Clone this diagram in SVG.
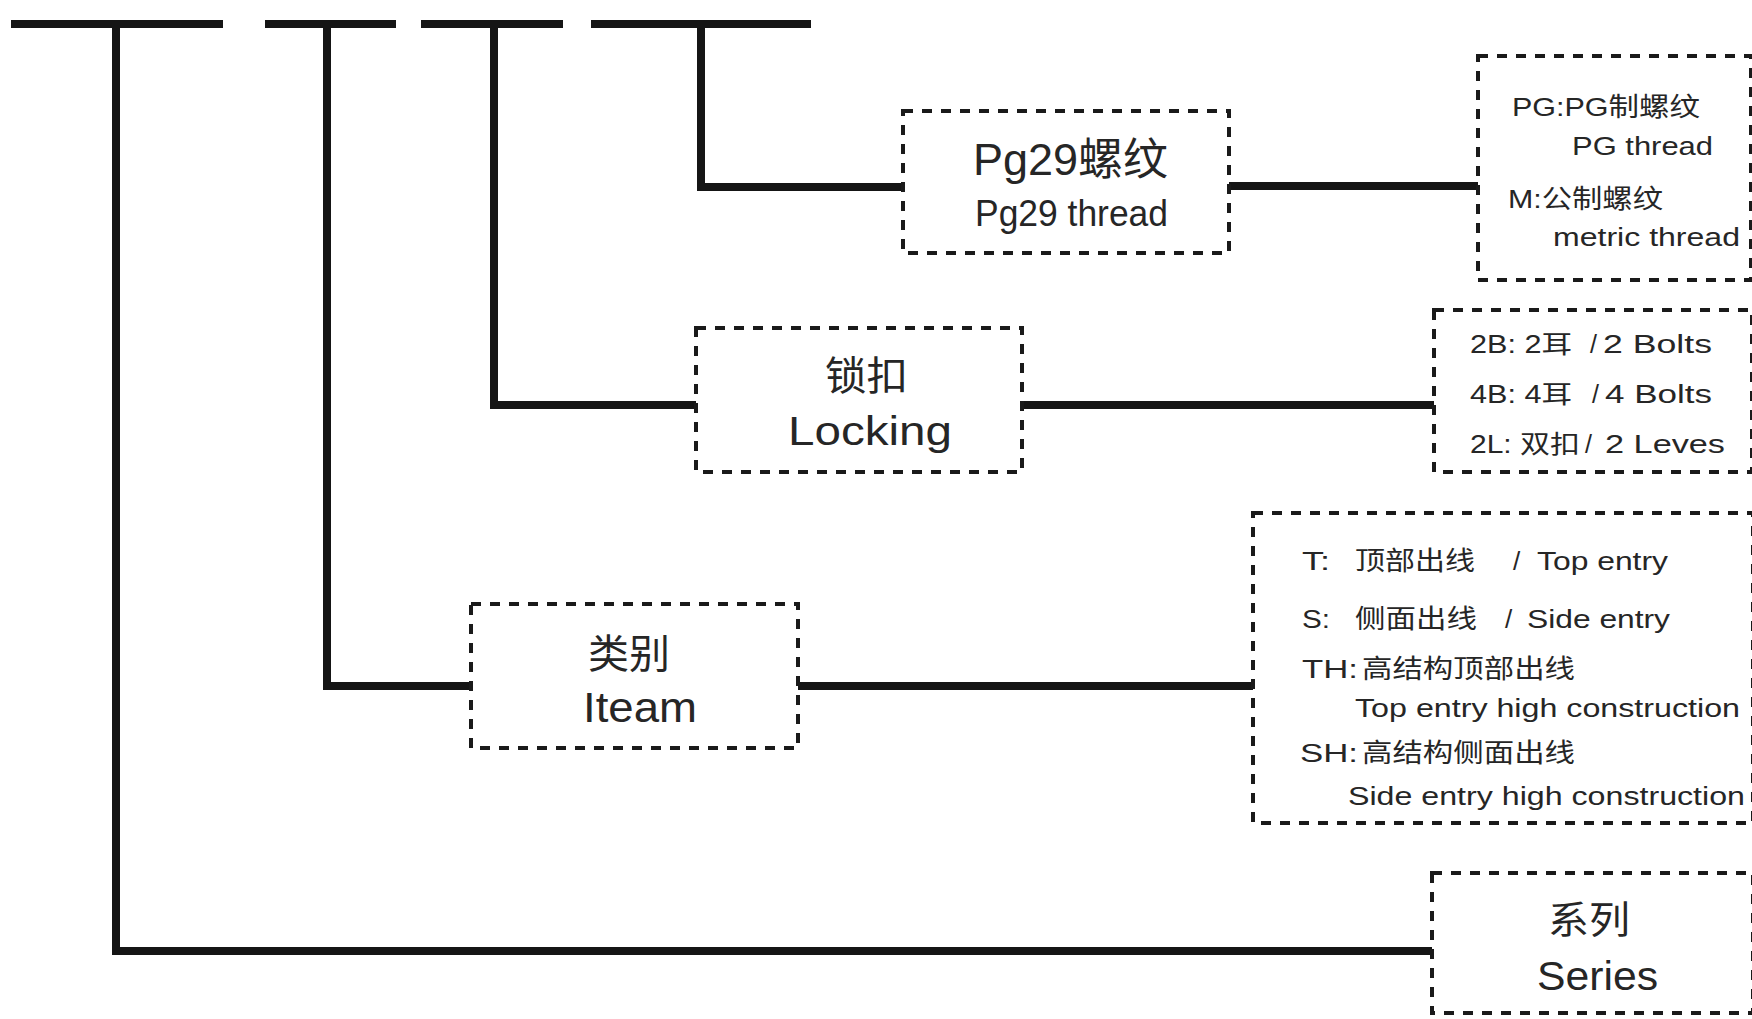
<svg xmlns="http://www.w3.org/2000/svg" width="1752" height="1019" viewBox="0 0 1752 1019">
<style>
.box{fill:none;stroke:#1a1a1a;stroke-width:4;stroke-dasharray:10 9}
.ln{fill:none;stroke:#151515;stroke-width:8;stroke-linecap:butt;stroke-linejoin:miter}
text{font-family:"Liberation Sans",Arial,"Noto Sans CJK SC",sans-serif;fill:#262626}
.big{font-size:40px}
.sm{font-size:26px}
.md{font-size:25px}
</style>
<rect width="1752" height="1019" fill="#ffffff"/>
<g id="connectors">
  <line class="ln" x1="11" y1="24" x2="223" y2="24"/>
  <line class="ln" x1="265" y1="24" x2="396" y2="24"/>
  <line class="ln" x1="421" y1="24" x2="563" y2="24"/>
  <line class="ln" x1="591" y1="24" x2="811" y2="24"/>
  <polyline class="ln" points="116,24 116,951 1432,951"/>
  <polyline class="ln" points="327,24 327,686 471,686"/>
  <polyline class="ln" points="494,24 494,405 696,405"/>
  <polyline class="ln" points="701,24 701,187 903,187"/>
  <line class="ln" x1="1229" y1="186" x2="1478" y2="186"/>
  <line class="ln" x1="1022" y1="405" x2="1434" y2="405"/>
  <line class="ln" x1="798" y1="686" x2="1253" y2="686"/>
</g>
<g id="node-pg29">
  <rect class="box" x="903" y="111" width="326" height="142"/>
  <text x="973" y="175" font-size="44" textLength="195" lengthAdjust="spacingAndGlyphs">Pg29螺纹</text>
  <text x="975" y="226" font-size="36" textLength="193" lengthAdjust="spacingAndGlyphs">Pg29 thread</text>
</g>
<g id="node-thread-options">
  <rect class="box" x="1478" y="56" width="273" height="224"/>
  <text class="sm" x="1512" y="116" textLength="188" lengthAdjust="spacingAndGlyphs">PG:PG制螺纹</text>
  <text class="sm" x="1572" y="155" textLength="141" lengthAdjust="spacingAndGlyphs">PG thread</text>
  <text class="sm" x="1508" y="208" textLength="155" lengthAdjust="spacingAndGlyphs">M:公制螺纹</text>
  <text class="sm" x="1553" y="246" textLength="187" lengthAdjust="spacingAndGlyphs">metric thread</text>
</g>
<g id="node-locking">
  <rect class="box" x="696" y="328" width="326" height="144"/>
  <text class="big" x="825" y="390" textLength="83" lengthAdjust="spacingAndGlyphs">锁扣</text>
  <text class="big" x="788" y="445" textLength="164" lengthAdjust="spacingAndGlyphs">Locking</text>
</g>
<g id="node-locking-options">
  <rect class="box" x="1434" y="310" width="318" height="162"/>
  <text class="md" x="1470" y="353" textLength="102" lengthAdjust="spacingAndGlyphs">2B: 2耳</text>
  <text class="md" x="1590" y="353">/</text>
  <text class="md" x="1603" y="353" textLength="109" lengthAdjust="spacingAndGlyphs">2 Bolts</text>
  <text class="md" x="1470" y="403" textLength="102" lengthAdjust="spacingAndGlyphs">4B: 4耳</text>
  <text class="md" x="1592" y="403">/</text>
  <text class="md" x="1605" y="403" textLength="107" lengthAdjust="spacingAndGlyphs">4 Bolts</text>
  <text class="md" x="1470" y="453" textLength="110" lengthAdjust="spacingAndGlyphs">2L: 双扣</text>
  <text class="md" x="1585" y="453">/</text>
  <text class="md" x="1605" y="453" textLength="120" lengthAdjust="spacingAndGlyphs">2 Leves</text>
</g>
<g id="node-iteam">
  <rect class="box" x="471" y="604" width="327" height="144"/>
  <text class="big" x="588" y="668" textLength="82" lengthAdjust="spacingAndGlyphs">类别</text>
  <text x="583" y="722" font-size="42" textLength="114" lengthAdjust="spacingAndGlyphs">Iteam</text>
</g>
<g id="node-iteam-options">
  <rect class="box" x="1253" y="513" width="500" height="310"/>
  <text class="sm" x="1302" y="570" textLength="28" lengthAdjust="spacingAndGlyphs">T:</text>
  <text class="sm" x="1355" y="570" textLength="120" lengthAdjust="spacingAndGlyphs">顶部出线</text>
  <text class="sm" x="1513" y="570">/</text>
  <text class="sm" x="1537" y="570" textLength="131" lengthAdjust="spacingAndGlyphs">Top entry</text>
  <text class="sm" x="1302" y="628" textLength="28" lengthAdjust="spacingAndGlyphs">S:</text>
  <text class="sm" x="1355" y="628" textLength="122" lengthAdjust="spacingAndGlyphs">侧面出线</text>
  <text class="sm" x="1505" y="628">/</text>
  <text class="sm" x="1527" y="628" textLength="143" lengthAdjust="spacingAndGlyphs">Side entry</text>
  <text class="sm" x="1302" y="678" textLength="56" lengthAdjust="spacingAndGlyphs">TH:</text>
  <text class="sm" x="1362" y="678" textLength="213" lengthAdjust="spacingAndGlyphs">高结构顶部出线</text>
  <text class="sm" x="1355" y="717" textLength="385" lengthAdjust="spacingAndGlyphs">Top entry high construction</text>
  <text class="sm" x="1300" y="762" textLength="58" lengthAdjust="spacingAndGlyphs">SH:</text>
  <text class="sm" x="1362" y="762" textLength="213" lengthAdjust="spacingAndGlyphs">高结构侧面出线</text>
  <text class="sm" x="1348" y="805" textLength="397" lengthAdjust="spacingAndGlyphs">Side entry high construction</text>
</g>
<g id="node-series">
  <rect class="box" x="1432" y="873" width="321" height="140"/>
  <text x="1548" y="933" font-size="38" textLength="82" lengthAdjust="spacingAndGlyphs">系列</text>
  <text class="big" x="1537" y="990" textLength="121" lengthAdjust="spacingAndGlyphs">Series</text>
</g>
</svg>
